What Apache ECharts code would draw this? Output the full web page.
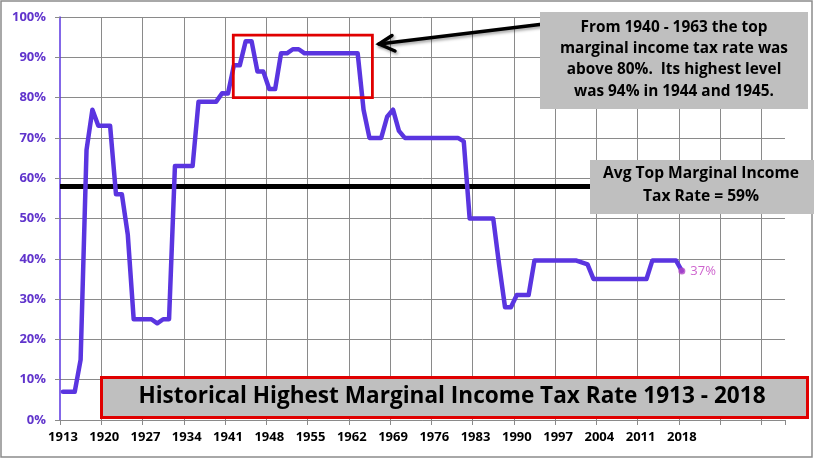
<!DOCTYPE html>
<html>
<head>
<meta charset="utf-8">
<script src="https://cdn.jsdelivr.net/npm/echarts@6/dist/echarts.min.js"></script>
<style>
html,body{margin:0;padding:0;background:#ffffff;}
#chart{width:814px;height:459px;}
</style>
</head>
<body>
<div id="chart"></div>
<script>
// ---- data ----
const firstYear = 1913;
const lastLabelYear = 2018;
const axisEndYear = 2035;           // axis keeps running (unlabelled) past the data
const labelEvery = 7;               // one labelled year in seven
const rates = [
  7, 7, 7, 15, 67, 77, 73, 73, 73, 56,                    // 1913-1922
  56, 46, 25, 25, 25, 25, 24, 25, 25, 63,                 // 1923-1932
  63, 63, 63, 79, 79, 79, 79, 81.1, 81, 88,               // 1933-1942
  88, 94, 94, 86.45, 86.45, 82.13, 82.13, 91, 91, 92,     // 1943-1952
  92, 91, 91, 91, 91, 91, 91, 91, 91, 91,                 // 1953-1962
  91, 77, 70, 70, 70, 75.25, 77, 71.75, 70, 70,           // 1963-1972
  70, 70, 70, 70, 70, 70, 70, 70, 69.13, 50,              // 1973-1982
  50, 50, 50, 50, 38.5, 28, 28, 31, 31, 31,               // 1983-1992
  39.6, 39.6, 39.6, 39.6, 39.6, 39.6, 39.6, 39.6, 39.1, 38.6, // 1993-2002
  35, 35, 35, 35, 35, 35, 35, 35, 35, 35,                 // 2003-2012
  39.6, 39.6, 39.6, 39.6, 39.6, 37                        // 2013-2018
];
const avgLevel = 58;   // where the black average line is drawn
const yMin = 0, yMax = 100, yStep = 10;
const titleText = 'Historical Highest Marginal Income Tax Rate 1913 - 2018';
const noteLines = ['From 1940 - 1963 the top', 'marginal income tax rate was', 'above 80%.  Its highest level', 'was 94% in 1944 and 1945.'];
const avgLines = ['Avg Top Marginal Income', 'Tax Rate = 59%'];
const highlight = { fromYear: '1942', toYear: '1965', top: 95.5, bottom: 80 };

const years = [];
for (let y = firstYear; y <= axisEndYear; y++) years.push(String(y));
const lastIdx = rates.length - 1;
const lastPoint = [years[lastIdx], rates[lastIdx]];

// ---- styles ----
const FONT = '"Open Sans", "Noto Sans", sans-serif';
const lineColor = '#5a35e0';
const gridColor = '#8a8a8a';
const boxFill = '#bfbfbf';

const ctx = document.createElement('canvas').getContext('2d');
function fitSize(lines, weight, base, targetW) {
  ctx.font = weight + ' ' + base + 'px ' + FONT;
  const w = Math.max.apply(null, lines.map(l => ctx.measureText(l).width));
  return base * targetW / w;
}

const chart = echarts.init(document.getElementById('chart'), null, { renderer: 'canvas' });

chart.setOption({
  animation: false,
  backgroundColor: '#ffffff',
  grid: { left: 60, right: 29, top: 17, bottom: 39, containLabel: false, outerBoundsMode: 'none' },
  xAxis: [
    {
      type: 'category',
      data: years,
      boundaryGap: true,
      axisLine: { show: true, lineStyle: { color: gridColor, width: 1 } },
      axisTick: { show: true, interval: labelEvery - 1, length: 5, lineStyle: { color: gridColor } },
      splitLine: { show: false },
      axisLabel: {
        interval: labelEvery - 1,
        margin: 11,
        color: '#000',
        fontFamily: FONT,
        fontWeight: 'bold',
        fontSize: 13,
        formatter: v => (+v <= lastLabelYear ? v : '')
      }
    },
    {
      // band-boundary scale used only for the vertical grid lines
      type: 'value',
      position: 'bottom',
      min: 0,
      max: years.length,
      interval: labelEvery,
      axisLine: { show: false },
      axisTick: { show: false },
      axisLabel: { show: false },
      splitLine: { show: true, showMinLine: false, showMaxLine: false, lineStyle: { color: gridColor, width: 1 } }
    }
  ],
  yAxis: {
    type: 'value',
    min: yMin, max: yMax, interval: yStep,
    axisLine: { show: true, lineStyle: { color: lineColor, width: 1.5 } },
    axisTick: { show: true, length: 5, lineStyle: { color: gridColor } },
    splitLine: { show: true, lineStyle: { color: gridColor, width: 1 } },
    axisLabel: {
      formatter: '{value}%',
      margin: 14,
      color: '#6034cc',
      fontFamily: FONT,
      fontWeight: 'bold',
      fontSize: 13
    }
  },
  series: [
    {
      type: 'line',
      xAxisIndex: 0,
      data: rates,
      showSymbol: false,
      symbol: 'none',
      smooth: false,
      z: 3,
      lineStyle: { color: lineColor, width: 4.5, cap: 'round', join: 'round' },
      markLine: {
        silent: true,
        symbol: ['none', 'none'],
        label: { show: false },
        lineStyle: { color: '#000', width: 5, type: 'solid' },
        data: [{ yAxis: avgLevel }],
        z: 2
      }
    },
    {
      type: 'scatter',
      xAxisIndex: 0,
      data: [lastPoint],
      symbol: 'circle',
      symbolSize: 7,
      z: 4,
      itemStyle: { color: '#b046c5' },
      label: {
        show: true,
        position: 'right',
        distance: 5,
        color: '#c03cc0',
        fontFamily: FONT,
        fontSize: 13,
        formatter: p => p.value[1] + '%'
      }
    }
  ]
});

// ---- annotations ----
const band = chart.convertToPixel({ xAxisIndex: 0 }, '1914') - chart.convertToPixel({ xAxisIndex: 0 }, '1913');
const hl0 = chart.convertToPixel({ xAxisIndex: 0, yAxisIndex: 0 }, [highlight.fromYear, highlight.top]);
const hl1 = chart.convertToPixel({ xAxisIndex: 0, yAxisIndex: 0 }, [highlight.toYear, highlight.bottom]);
const hlX0 = hl0[0] - band * 0.1, hlX1 = hl1[0] + band * 0.5;

const noteSize = fitSize(noteLines, 'bold', 16, 228);
const avgSize = fitSize(avgLines, 'bold', 16, 196);
const titleSize = fitSize([titleText], 'bold', 26, 627);

chart.setOption({
  graphic: [
    // outer chart border
    { type: 'rect', z: 1, silent: true, shape: { x: 1, y: 1, width: 811, height: 456 },
      style: { fill: 'none', stroke: '#8c8c8c', lineWidth: 1.5 } },
    // red highlight rectangle
    { type: 'rect', z: 10, silent: true,
      shape: { x: hlX0, y: hl0[1], width: hlX1 - hlX0, height: hl1[1] - hl0[1] },
      style: { fill: 'none', stroke: '#e00000', lineWidth: 2.8 } },
    // arrow
    { type: 'polyline', z: 10, silent: true,
      shape: { points: [[548, 23.5], [379, 44]] },
      style: { stroke: '#000', lineWidth: 3.5, lineCap: 'round', shadowBlur: 3, shadowColor: 'rgba(0,0,0,0.35)', shadowOffsetX: 1.5, shadowOffsetY: 2 } },
    { type: 'polyline', z: 10, silent: true,
      shape: { points: [[392, 35.5], [379, 44], [395, 51]] },
      style: { stroke: '#000', fill: 'none', lineWidth: 3.5, lineCap: 'round', lineJoin: 'miter', shadowBlur: 3, shadowColor: 'rgba(0,0,0,0.35)', shadowOffsetX: 1.5, shadowOffsetY: 2 } },
    // note box
    { type: 'rect', z: 11, silent: true, shape: { x: 540, y: 12, width: 268, height: 97 },
      style: { fill: boxFill, stroke: 'none' } },
    { type: 'text', z: 12, silent: true,
      style: { x: 674, y: 59.5, text: noteLines.join('\n'), align: 'center', verticalAlign: 'middle',
        font: 'bold ' + noteSize.toFixed(2) + 'px ' + FONT, lineHeight: 21.2, fill: '#000' } },
    // avg box
    { type: 'rect', z: 11, silent: true, shape: { x: 590, y: 160, width: 224, height: 54 },
      style: { fill: boxFill, stroke: 'none' } },
    { type: 'text', z: 12, silent: true,
      style: { x: 701, y: 185.5, text: avgLines.join('\n'), align: 'center', verticalAlign: 'middle',
        font: 'bold ' + avgSize.toFixed(2) + 'px ' + FONT, lineHeight: 23, fill: '#000' } },
    // title box
    { type: 'rect', z: 11, silent: true, shape: { x: 101.5, y: 377.5, width: 706, height: 40 },
      style: { fill: boxFill, stroke: '#e00000', lineWidth: 3 } },
    { type: 'text', z: 12, silent: true,
      style: { x: 452, y: 397, text: titleText, align: 'center', verticalAlign: 'middle',
        font: 'bold ' + titleSize.toFixed(2) + 'px ' + FONT, fill: '#000' } }
  ]
});
</script>
</body>
</html>
